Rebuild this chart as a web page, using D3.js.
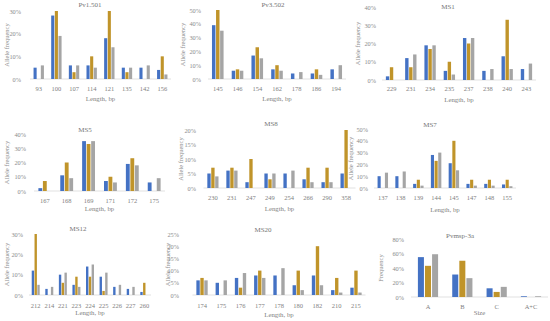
<!DOCTYPE html>
<html>
<head>
<meta charset="utf-8">
<script src="https://cdn.jsdelivr.net/npm/d3@7"></script>
<style>
  body { margin: 0; background: #fff; }
  text { font-family: "Liberation Serif", "DejaVu Serif", serif; }
</style>
</head>
<body>
<svg id="chart" width="550" height="321"></svg>
<script>
// Series colours (three populations per marker)
const colors = ["#4472C4", "#C0942A", "#A5A5A5"];

// Pv1.501
const pv1501Cats = ["93", "100", "107", "114", "121", "135", "142", "156"];
const pv1501S1 = [5, 28, 6, 6, 18, 5, 5, 4];
const pv1501S2 = [0, 30, 3, 10, 30, 3, 0, 10];
const pv1501S3 = [6, 19, 6, 5, 14, 5, 6, 2];

// Pv3.502
const pv3502Cats = ["145", "146", "154", "162", "178", "186", "194"];
const pv3502S1 = [39, 6, 17, 7, 4, 4, 7];
const pv3502S2 = [50, 7, 23, 10, 0, 7, 0];
const pv3502S3 = [35, 6, 15, 6, 5, 3, 10];

// MS1
const ms1Cats = ["229", "231", "234", "235", "237", "238", "240", "243"];
const ms1S1 = [2, 12, 19, 5, 23, 5, 13, 6];
const ms1S2 = [7, 7, 17, 10, 20, 0, 33, 0];
const ms1S3 = [0, 14, 19, 3, 23, 6, 6, 9];

// MS5
const ms5Cats = ["167", "168", "169", "171", "172", "175"];
const ms5S1 = [2, 11, 35, 7, 19, 6];
const ms5S2 = [7, 20, 33, 10, 23, 0];
const ms5S3 = [0, 9, 35, 6, 18, 9];

// MS8
const ms8Cats = ["230", "231", "247", "249", "254", "266", "290", "358"];
const ms8S1 = [5, 6, 2, 5, 5, 3, 2, 5];
const ms8S2 = [7, 7, 10, 3, 0, 7, 7, 20];
const ms8S3 = [4, 6, 0, 5, 6, 2, 2, 0];

// MS7
const ms7Cats = ["137", "138", "139", "144", "145", "147", "148", "155"];
const ms7S1 = [10, 10, 3.5, 28, 21, 3.5, 3.5, 3];
const ms7S2 = [0, 0, 7, 23, 40, 7, 7, 7];
const ms7S3 = [13, 14, 2, 30, 15, 2, 2, 1.5];

// MS12
const ms12Cats = ["212", "214", "221", "223", "224", "225", "226", "227", "260"];
const ms12S1 = [12, 3, 10, 5, 14, 9, 4, 3, 1.5];
const ms12S2 = [30, 0, 6, 9, 9, 2, 0, 0, 6];
const ms12S3 = [5, 4, 11, 4, 15, 11, 5, 4, 0];

// MS20
const ms20Cats = ["174", "175", "176", "177", "178", "180", "182", "210", "215"];
const ms20S1 = [6, 5, 7, 8, 8, 4, 8, 2, 3];
const ms20S2 = [7, 0, 3, 10, 0, 10, 20, 7, 10];
const ms20S3 = [6, 6, 9, 7, 11, 2, 4, 1, 1];

// Pvmsp-3a
const msp3Cats = ["A", "B", "C", "A+C"];
const msp3S1 = [55, 31, 12, 1];
const msp3S2 = [43, 50, 7, 0];
const msp3S3 = [59, 26, 14, 1];

// Panel layout (positions only)
const panels = [
  { title: "Pv1.501", cats: pv1501Cats, series: [pv1501S1, pv1501S2, pv1501S3], yMax: 30, yStep: 10,
    x: [30, 171], y: [79, 11], tickX: 21, titleXY: [90, 7], labY: 91, axY: 101, yTitleX: 7, xTitle: "Length, bp", yTitle: "Allele frequency" },
  { title: "Pv3.502", cats: pv3502Cats, series: [pv3502S1, pv3502S2, pv3502S3], yMax: 50, yStep: 10,
    x: [208, 346], y: [79, 10], tickX: 201, titleXY: [273, 7], labY: 91, axY: 101, yTitleX: 183, xTitle: "Length, bp", yTitle: "Allele frequency" },
  { title: "MS1", cats: ms1Cats, series: [ms1S1, ms1S2, ms1S3], yMax: 40, yStep: 10,
    x: [382, 536], y: [80, 7], tickX: 376, titleXY: [448, 9], labY: 91, axY: 102, yTitleX: 358, xTitle: "Length, bp", yTitle: "Allele frequency" },
  { title: "MS5", cats: ms5Cats, series: [ms5S1, ms5S2, ms5S3], yMax: 40, yStep: 10,
    x: [34, 165], y: [191, 134], tickX: 26, titleXY: [85, 132], labY: 203, axY: 211, yTitleX: 7, xTitle: "Length, bp", yTitle: "Allele frequency" },
  { title: "MS8", cats: ms8Cats, series: [ms8S1, ms8S2, ms8S3], yMax: 20, yStep: 5,
    x: [203.5, 355.5], y: [188, 130], tickX: 196, titleXY: [271, 126], labY: 200, axY: 211, yTitleX: 181, xTitle: "Length, bp", yTitle: "Allele frequency" },
  { title: "MS7", cats: ms7Cats, series: [ms7S1, ms7S2, ms7S3], yMax: 50, yStep: 10,
    x: [374, 516], y: [188, 129], tickX: 368, titleXY: [430, 127], labY: 200, axY: 212, yTitleX: 351, xTitle: "Length, bp", yTitle: "Allele frequency" },
  { title: "MS12", cats: ms12Cats, series: [ms12S1, ms12S2, ms12S3], yMax: 30, yStep: 10,
    x: [29, 151], y: [295, 234], tickX: 23, titleXY: [78, 231], labY: 308, axY: 315, yTitleX: 7, xTitle: "Length, bp", yTitle: "Allele frequency" },
  { title: "MS20", cats: ms20Cats, series: [ms20S1, ms20S2, ms20S3], yMax: 25, yStep: 5,
    x: [192.5, 365.5], y: [295, 234], tickX: 179, titleXY: [263, 232], labY: 308, axY: 317, yTitleX: 168, xTitle: "Length, bp", yTitle: "Allele frequency" },
  { title: "Pvmsp-3a", cats: msp3Cats, series: [msp3S1, msp3S2, msp3S3], yMax: 80, yStep: 20,
    x: [411, 548], y: [297, 239], tickX: 404, titleXY: [460, 238], labY: 309, axY: 315, yTitleX: 381, xTitle: "Size", yTitle: "Frequency" }
];

const svg = d3.select("#chart");

panels.forEach((p) => {
  const g = svg.append("g");

  const x = d3.scaleBand().domain(p.cats).range(p.x).paddingInner(0.35).paddingOuter(0.17);
  const xs = d3.scaleBand().domain(d3.range(3)).range([0, x.bandwidth()]).padding(0.15);
  const y = d3.scaleLinear().domain([0, p.yMax]).range(p.y);

  // title
  g.append("text")
    .attr("x", p.titleXY[0]).attr("y", p.titleXY[1])
    .attr("text-anchor", "middle")
    .attr("font-size", 7)
    .attr("fill", "#767676")
    .text(p.title);

  // y ticks (no axis line)
  const yAxis = d3.axisLeft(y)
    .tickValues(d3.range(0, p.yMax + 0.001, p.yStep))
    .tickFormat((d) => d + "%")
    .tickSize(0);
  g.append("g")
    .attr("transform", `translate(${p.tickX},0)`)
    .call(yAxis)
    .call((a) => a.select(".domain").remove())
    .selectAll("text")
    .attr("x", 0)
    .attr("font-size", 6.3)
    .attr("fill", "#8c8c8c")
    .style("font-family", "'Liberation Serif', serif");

  // baseline
  g.append("line")
    .attr("x1", p.x[0]).attr("x2", p.x[1])
    .attr("y1", y(0)).attr("y2", y(0))
    .attr("stroke", "#d9d9d9").attr("stroke-width", 0.8);

  // bars
  p.series.forEach((vals, si) => {
    g.append("g")
      .selectAll("rect")
      .data(vals)
      .enter()
      .append("rect")
      .attr("x", (d, i) => x(p.cats[i]) + xs(si))
      .attr("y", (d) => y(d))
      .attr("width", xs.bandwidth())
      .attr("height", (d) => y(0) - y(d))
      .attr("fill", colors[si]);
  });

  // category labels
  g.append("g")
    .selectAll("text")
    .data(p.cats)
    .enter()
    .append("text")
    .attr("x", (d) => x(d) + x.bandwidth() / 2)
    .attr("y", p.labY)
    .attr("text-anchor", "middle")
    .attr("font-size", 6.5)
    .attr("fill", "#7f7f7f")
    .text((d) => d);

  // x title
  g.append("text")
    .attr("x", (p.x[0] + p.x[1]) / 2).attr("y", p.axY)
    .attr("text-anchor", "middle")
    .attr("font-size", 6.8)
    .attr("fill", "#7f7f7f")
    .text(p.xTitle);

  // y title
  const cy = (p.y[0] + p.y[1]) / 2;
  g.append("text")
    .attr("transform", `translate(${p.yTitleX},${cy}) rotate(-90)`)
    .attr("text-anchor", "middle")
    .attr("dy", "0.35em")
    .attr("font-size", 6.5)
    .attr("fill", "#8c8c8c")
    .text(p.yTitle);
});
</script>
</body>
</html>
